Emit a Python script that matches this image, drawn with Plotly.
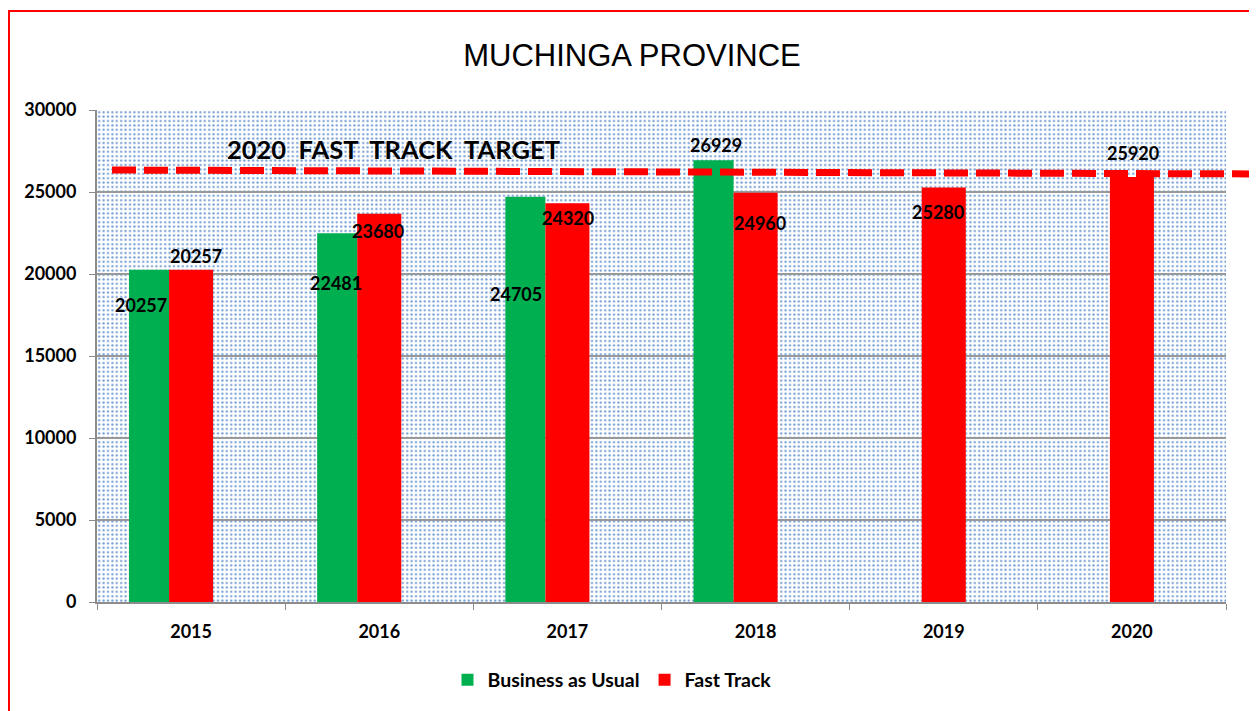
import base64
import plotly.graph_objects as go

years = ["2015", "2016", "2017", "2018", "2019", "2020"]
bau = [20257, 22481, 24705, 26929, None, None]
fast = [20257, 23680, 24320, 24960, 25280, 25920]
target_line = [26340, 26100]  # dashed target line, left and right ends
target_label = "2020  FAST  TRACK  TARGET"
title = "MUCHINGA PROVINCE"

# label pixel offsets (style): (x from category centre, y from value)
bau_shift = [(-50, -35), (-43, -50), (-51, -97), (-40, 15), None, None]
fast_shift = [(5, 14), (-1, -17), (1, -15), (4, -30), (-6, -25), (1, 24)]

GREEN = "#00b050"
RED = "#ff0000"
FONT = "Lato"

OFF = 8  # page body margin
W, H = 1257 - OFF, 711 - OFF
L, T = 97 - OFF, 110 - OFF
R = W - (1226 - OFF)
B = H - (602 - OFF)
PW, PH = W - L - R, H - T - B


def px(xw):  # window x -> paper x
    return (xw - OFF - L) / PW


def py(yw):  # window y -> paper y
    return (H - B - (yw - OFF)) / PH


# dotted background pattern as an SVG image
svg = f'''<svg xmlns="http://www.w3.org/2000/svg" width="{PW}" height="{PH}" viewBox="0 0 {PW} {PH}">
<defs><pattern id="p" width="4.4" height="4.4" patternUnits="userSpaceOnUse">
<rect width="4.4" height="4.4" fill="#ffffff"/>
<circle cx="2.2" cy="2.2" r="1.15" fill="#6d99d2"/>
</pattern></defs>
<rect width="{PW}" height="{PH}" fill="url(#p)"/></svg>'''
src = "data:image/svg+xml;base64," + base64.b64encode(svg.encode()).decode()

fig = go.Figure()
fig.add_trace(go.Bar(x=years, y=bau, name="Business as Usual", marker_color=GREEN,
                     marker_line_width=0, offset=-0.33, width=0.213))
fig.add_trace(go.Bar(x=years, y=fast, name="Fast Track", marker_color=RED,
                     marker_line_width=0, offset=-0.117, width=0.234))

lab_font = dict(family=FONT, size=18, color="black", weight="bold")
annotations = []
for i, y in enumerate(years):
    if bau[i] is not None and bau_shift[i] is not None:
        dx, dy = bau_shift[i]
        annotations.append(dict(x=i, y=bau[i], xref="x", yref="y", text=f"{bau[i]}",
                                showarrow=False, xshift=dx, yshift=dy, font=lab_font,
                                xanchor="center", yanchor="middle"))
    if fast[i] is not None:
        dx, dy = fast_shift[i]
        annotations.append(dict(x=i, y=fast[i], xref="x", yref="y", text=f"{fast[i]}",
                                showarrow=False, xshift=dx, yshift=dy, font=lab_font,
                                xanchor="center", yanchor="middle"))

annotations.append(dict(x=px(393), y=target_line[0], xref="paper", yref="y",
                        text=target_label, showarrow=False, yshift=21,
                        xanchor="center", yanchor="middle",
                        font=dict(family=FONT, size=25.5, color="black", weight="bold")))

shapes = [
    dict(type="line", xref="paper", yref="y", x0=px(112), x1=px(1257),
         y0=target_line[0], y1=target_line[1],
         line=dict(color=RED, width=7, dash="24px,8px"), layer="above"),
    dict(type="rect", xref="paper", yref="paper",
         x0=px(9), x1=px(1255), y0=py(780), y1=py(11),
         line=dict(color=RED, width=2), fillcolor="rgba(0,0,0,0)", layer="above"),
]

tick_font = dict(family=FONT, size=18, color="black", weight="bold")

fig.update_layout(
    width=W, height=H,
    margin=dict(l=L, r=R, t=T, b=B),
    paper_bgcolor="white", plot_bgcolor="white",
    barmode="overlay",
    title=dict(text=title, x=px(632), xref="paper", xanchor="center",
               y=1 - (55 - OFF) / H, yanchor="middle",
               font=dict(family="Liberation Sans", size=31, color="black")),
    showlegend=True,
    legend=dict(orientation="h", x=px(612), xanchor="center", y=py(680), yanchor="middle",
                font=dict(family=FONT, size=19.5, color="black", weight="bold"),
                itemwidth=30, traceorder="normal"),
    xaxis=dict(type="category", range=[-0.5, 5.5], showgrid=False, showline=True,
               linecolor="#8c8c8c", linewidth=2,
               ticks="outside", tickson="boundaries", ticklen=6, tickcolor="#8c8c8c",
               ticklabelstandoff=12, tickfont=tick_font),
    yaxis=dict(range=[0, 30000], dtick=5000, showgrid=True, gridcolor="#999999", gridwidth=2,
               showline=True, linecolor="#8c8c8c", linewidth=2, zeroline=False,
               ticks="outside", ticklen=6, tickcolor="#8c8c8c", tickformat="d",
               ticklabelstandoff=9, tickfont=tick_font),
    annotations=annotations,
    shapes=shapes,
    images=[dict(source=src, xref="paper", yref="paper", x=0, y=1, sizex=1, sizey=1,
                 xanchor="left", yanchor="top", sizing="stretch", layer="below")],
)

fig.write_html("out.html")
